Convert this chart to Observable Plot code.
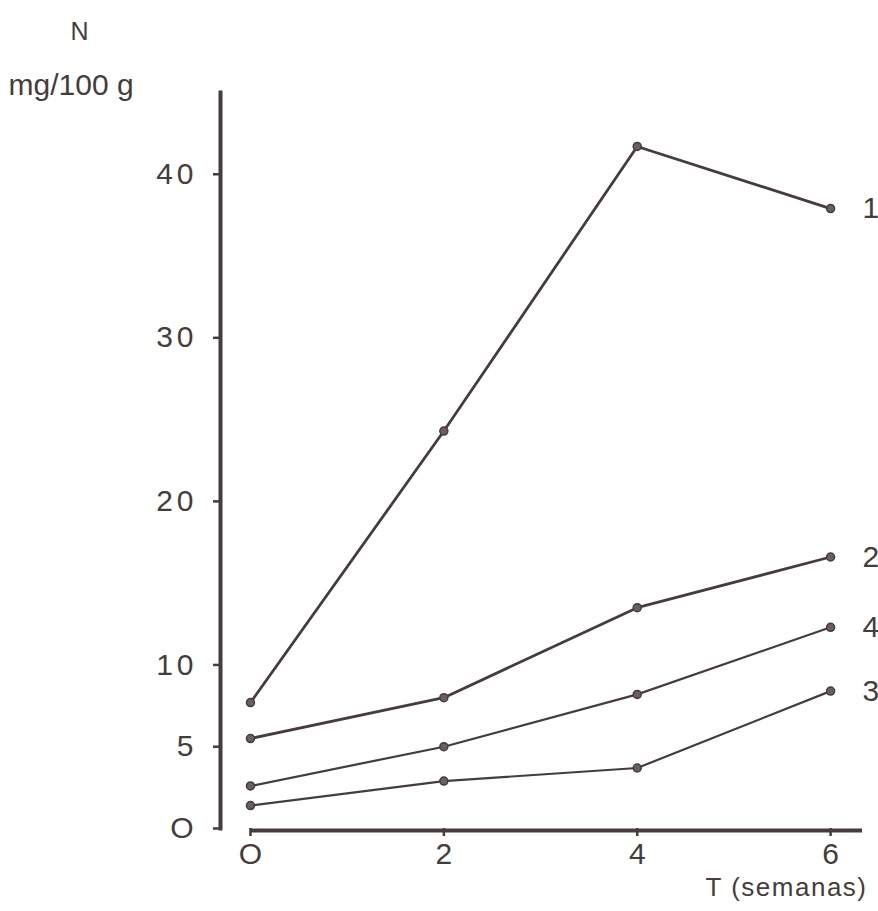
<!DOCTYPE html>
<html>
<head>
<meta charset="utf-8">
<script src="https://cdn.jsdelivr.net/npm/d3@7"></script>
<script src="https://cdn.jsdelivr.net/npm/@observablehq/plot@0.6"></script>
<style>
  html, body { margin: 0; padding: 0; background: #fff; }
  g[aria-label="y-axis tick label"] text { letter-spacing: 4px; }
</style>
</head>
<body>
<div id="chart"></div>
<script>
// Nitrogen content (mg/100 g) over storage time (weeks), four samples
const weeks = [0, 2, 4, 6];
const seriesNames = ["1", "2", "3", "4"];
const n1 = [7.7, 24.3, 41.7, 37.9];
const n2 = [5.5, 8.0, 13.5, 16.6];
const n3 = [1.4, 2.9, 3.7, 8.4];
const n4 = [2.6, 5.0, 8.2, 12.3];
const yTicks = [0, 5, 10, 20, 30, 40];
const xTicks = [0, 2, 4, 6];
const strokeWidths = [2.8, 2.8, 2.2, 2.2];

const ink = "#463c3c";
const values = [n1, n2, n3, n4];
const rows = seriesNames.flatMap((s, i) =>
  weeks.map((w, j) => ({series: s, week: w, n: values[i][j], sw: strokeWidths[i]}))
);
const lastRows = seriesNames.map((s, i) => ({series: s, week: weeks[weeks.length - 1], n: values[i][values[i].length - 1]}));

const font = "'Liberation Sans', Arial, sans-serif";

const chart = Plot.plot({
  width: 878,
  height: 911,
  marginLeft: 220,
  marginRight: 16,
  marginTop: 92,
  marginBottom: 83,
  style: {fontFamily: font, fontSize: "30px", color: ink, background: "#fff"},
  x: {domain: [-0.31, 6.33], axis: null},
  y: {domain: [0, 45], axis: null},
  marks: [
    // vertical axis line
    Plot.frame({anchor: "left", stroke: ink, strokeWidth: 4}),
    // horizontal axis line, starting at week 0
    Plot.ruleY([0], {x1: 0, x2: 6.33, stroke: ink, strokeWidth: 4, dy: 2}),
    Plot.axisY({
      ticks: yTicks, tickSize: 7, tickPadding: 16, tickFormat: d => d === 0 ? "O" : String(d),
      stroke: ink, strokeWidth: 2.5, fill: ink, label: null, fontSize: 30
    }),
    Plot.axisX({
      ticks: xTicks, tickSize: 8, tickPadding: 6, tickFormat: d => d === 0 ? "O" : String(d),
      stroke: ink, strokeWidth: 2.5, fill: ink, label: null, fontSize: 30
    }),
    Plot.line(rows, {x: "week", y: "n", z: "series", stroke: ink, strokeWidth: "sw"}),
    Plot.dot(rows, {x: "week", y: "n", r: 4, fill: "#6a5e5e", stroke: ink, strokeWidth: 1.5}),
    Plot.text(lastRows, {x: "week", y: "n", text: "series", dx: 32, textAnchor: "start", fill: ink, fontSize: 30}),
    // axis titles
    Plot.text(["N"], {frameAnchor: "top-left", dx: -150, dy: -70, fill: ink, fontSize: 25}),
    Plot.text(["mg/100 g"], {frameAnchor: "top-left", dx: -212, dy: -19, textAnchor: "start", fill: ink, fontSize: 30}),
    Plot.text(["T (semanas)"], {frameAnchor: "bottom-right", dx: 5, dy: 67, textAnchor: "end", fill: ink, fontSize: 26})
  ]
});

// wider tracking on the time-axis title
d3.select(chart).selectAll("text")
  .filter(function () { return this.textContent === "T (semanas)"; })
  .style("letter-spacing", "1.5px");

document.getElementById("chart").appendChild(chart);
</script>
</body>
</html>
